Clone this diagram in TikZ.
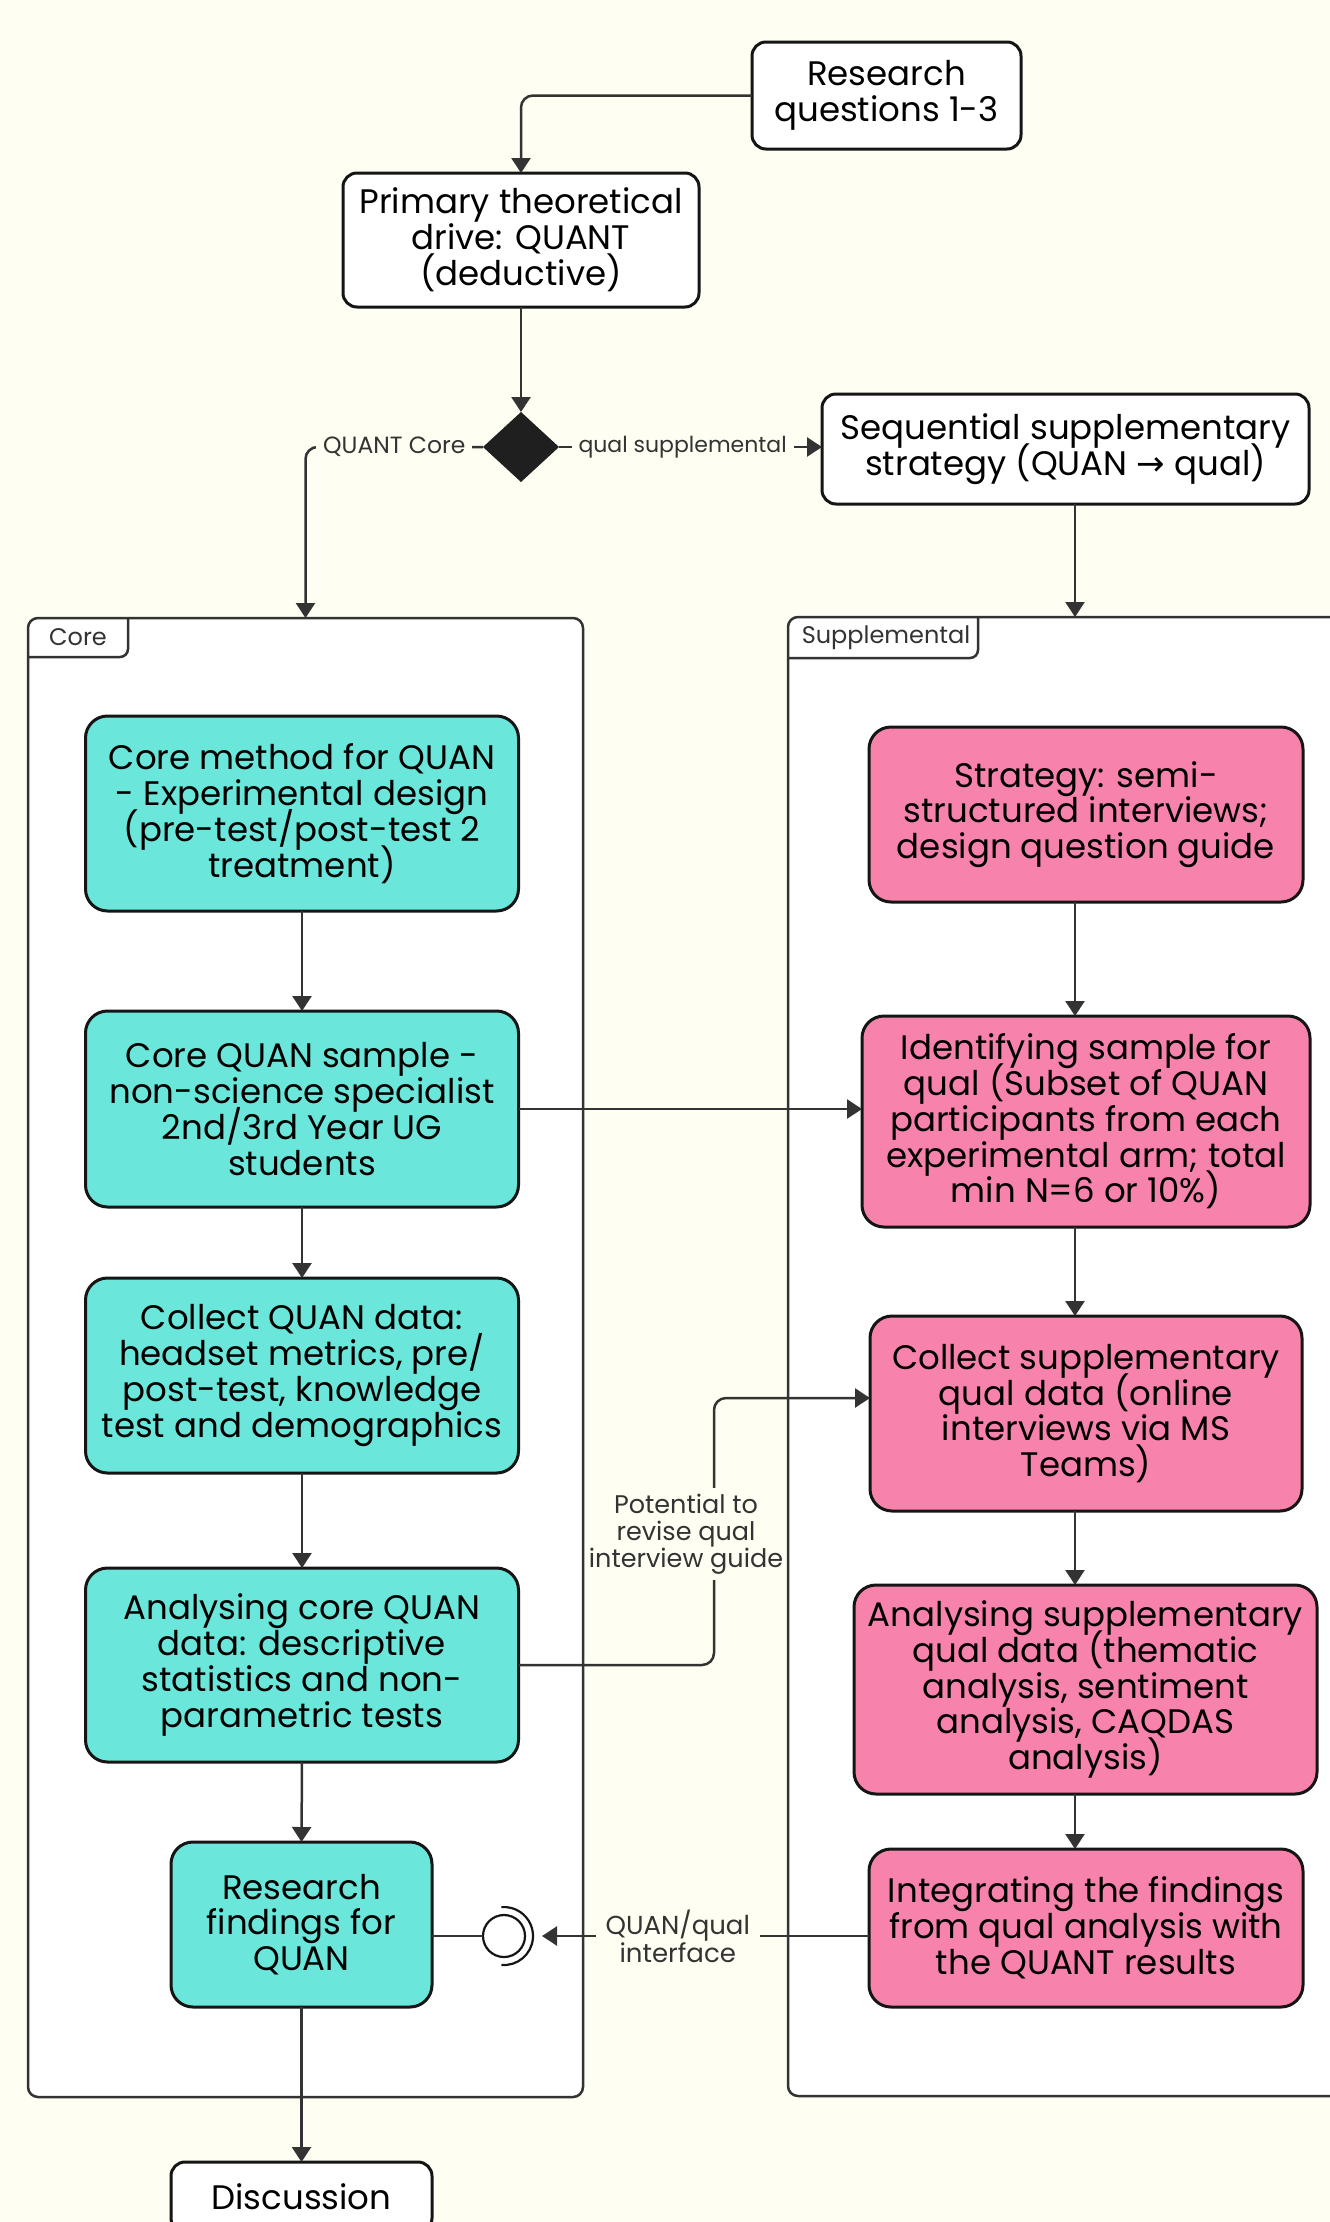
\documentclass[tikz,border=0pt]{standalone}
\usepackage{fontspec}
\setmainfont{Poppins}
\newfontfamily\arrowfont{DejaVu Sans}
\usetikzlibrary{arrows.meta,shapes.geometric}
\definecolor{bgc}{HTML}{FEFEF2}
\definecolor{tealc}{HTML}{6AE6DA}
\definecolor{pinkc}{HTML}{F783AC}
\definecolor{edgec}{HTML}{333333}
\definecolor{boxline}{HTML}{151515}
\newcommand{\nolsk}{\lineskiplimit=-100pt\relax}
\begin{document}
\begin{tikzpicture}[x=1pt,y=-1pt,
  every node/.style={inner sep=0pt, outer sep=0pt},
  whitebox/.style={draw=boxline, line width=3pt, fill=white, rounded corners=14pt, align=center, font=\fontsize{34}{35.8}\selectfont\nolsk},
  corebox/.style={whitebox, fill=tealc, rounded corners=22pt},
  suppbox/.style={whitebox, fill=pinkc, rounded corners=22pt},
  frame/.style={draw=edgec, line width=2.5pt, fill=white, rounded corners=10pt},
  tablabel/.style={font=\fontsize{24}{26}\selectfont, text=edgec},
  elabel/.style={font=\fontsize{22}{27}\selectfont\nolsk, text=edgec, fill=bgc, align=center, inner xsep=8pt, inner ysep=5pt},
  conn/.style={draw=edgec, line width=2.5pt},
  arr/.style={conn, -{Triangle[length=15pt, width=19pt]}},
]
\useasboundingbox (0,0) rectangle (1330,2222);
\clip (0,0) rectangle (1330,2222);
\fill[bgc] (0,0) rectangle (1330,2222);

% frames
\node[frame, minimum width=555pt, minimum height=1479pt] (core) at (305.5,1357.5) {};
\node[frame, minimum width=632pt, minimum height=1479pt] (supp) at (1104,1356.5) {};
\node[tablabel, anchor=north west, minimum width=100pt, minimum height=39pt] (coretab) at (core.north west) {Core};
\draw[conn, rounded corners=8pt] (coretab.north east) -- (coretab.south east) -- (coretab.south west);
\node[tablabel, anchor=north west, minimum width=190pt, minimum height=41pt] (supptab) at (supp.north west) {\hspace{6pt}Supplemental};
\draw[conn, rounded corners=8pt] (supptab.north east) -- (supptab.south east) -- (supptab.south west);

% top nodes
\node[whitebox, minimum width=269pt, minimum height=107pt] (rq) at (886.5,95.5) {Research\\questions 1-3};
\node[whitebox, minimum width=356pt, minimum height=134pt] (ptd) at (521,240) {Primary theoretical\\drive: QUANT\\(deductive)};
\node[diamond, fill=black!88, minimum width=76pt, minimum height=70pt] (dia) at (521,447) {};
\node[whitebox, minimum width=487pt, minimum height=110pt] (seq) at (1065.5,449) {Sequential supplementary\\strategy (QUAN {\arrowfont →} qual)};

% core column
\node[corebox, minimum width=433pt, minimum height=195pt] (cm) at (302,813.5) {Core method for QUAN\\- Experimental design\\(pre-test/post-test 2\\treatment)};
\node[corebox, minimum width=433pt, minimum height=196pt] (cs) at (302,1109) {Core QUAN sample -\\non-science specialist\\2nd/3rd Year UG\\students};
\node[corebox, minimum width=433pt, minimum height=195pt] (cq) at (302,1375.5) {Collect QUAN data:\\headset metrics, pre/\\post-test, knowledge\\test and demographics};
\node[corebox, minimum width=433pt, minimum height=194pt] (ca) at (302,1665) {Analysing core QUAN\\data: descriptive\\statistics and non-\\parametric tests};
\node[corebox, minimum width=261pt, minimum height=165pt] (rf) at (301.5,1924.5) {Research\\findings for\\QUAN};
\node[whitebox, minimum width=261pt, minimum height=70pt] (disc) at (301.5,2197) {Discussion};

% supplemental column
\node[suppbox, minimum width=434pt, minimum height=175pt] (st) at (1086,814.5) {Strategy: semi-\\structured interviews;\\design question guide};
\node[suppbox, minimum width=448pt, minimum height=211pt] (id) at (1086,1121.5) {Identifying sample for\\qual (Subset of QUAN\\participants from each\\experimental arm; total\\min N=6 or 10\%)};
\node[suppbox, minimum width=432pt, minimum height=195pt] (cl) at (1086,1413.5) {Collect supplementary\\qual data (online\\interviews via MS\\Teams)};
\node[suppbox, minimum width=463pt, minimum height=209pt] (an) at (1085.5,1689.5) {Analysing supplementary\\qual data (thematic\\analysis, sentiment\\analysis, CAQDAS\\analysis)};
\node[suppbox, minimum width=434pt, minimum height=158pt] (in) at (1086,1928) {Integrating the findings\\from qual analysis with\\the QUANT results};

% socket
\node[circle, draw=boxline, line width=2.2pt, fill=white, minimum size=42pt] (sock) at (504,1936) {};
\draw[draw=boxline, line width=2.2pt] ([shift={(95:29)}]sock.center) arc[start angle=95, end angle=-95, radius=29];

\coordinate (sx) at (1075,0);
\coordinate (rv) at (714,1398);

% connectors
\draw[arr, rounded corners=12pt] (rq.west) -| (ptd.north);
\draw[arr] (ptd.south) -- (dia.north);
\draw[arr, rounded corners=12pt] (dia.west) -- (core.north |- dia.west) -- (core.north);
\path (dia.west) -- node[elabel, font=\fontsize{23.5}{27}\selectfont, inner xsep=7pt] {QUANT Core} (core.north |- dia.west);
\draw[arr] (dia.east) -- node[elabel, pos=0.47, inner xsep=7pt] {qual supplemental} (dia.east -| seq.west);
\draw[arr] (seq.south -| sx) -- (supp.north -| sx);

\draw[arr] (cm.south) -- (cs.north);
\draw[arr] (cs.south) -- (cq.north);
\draw[arr] (cq.south) -- (ca.north);
\draw[arr] (ca.south) -- (rf.north);
\draw[arr] (rf.south) -- (disc.north);

\draw[arr] (st.south -| sx) -- (id.north -| sx);
\draw[arr] (id.south -| sx) -- (cl.north -| sx);
\draw[arr] (cl.south -| sx) -- (an.north -| sx);
\draw[arr] (an.south -| sx) -- (in.north -| sx);

\draw[arr] (cs.east) -- (cs.east -| id.west);
\draw[arr, rounded corners=12pt] (ca.east) -| (rv) -- (rv -| cl.west);
\node[elabel, font=\fontsize{25.5}{27}\selectfont\nolsk, inner xsep=0pt, inner ysep=6pt] (revlab) at (686,1534) {Potential to\\revise qual\\interview guide};

\draw[arr, shorten >=17pt] (in.west |- sock) -- (sock.east);
\path (in.west |- sock) -- node[elabel, pos=0.556, font=\fontsize{26}{28}\selectfont\nolsk, inner xsep=10pt] {QUAN/qual\\interface} (sock.east);
\draw[conn] (rf.east |- sock) -- (sock.west);
\end{tikzpicture}
\end{document}
